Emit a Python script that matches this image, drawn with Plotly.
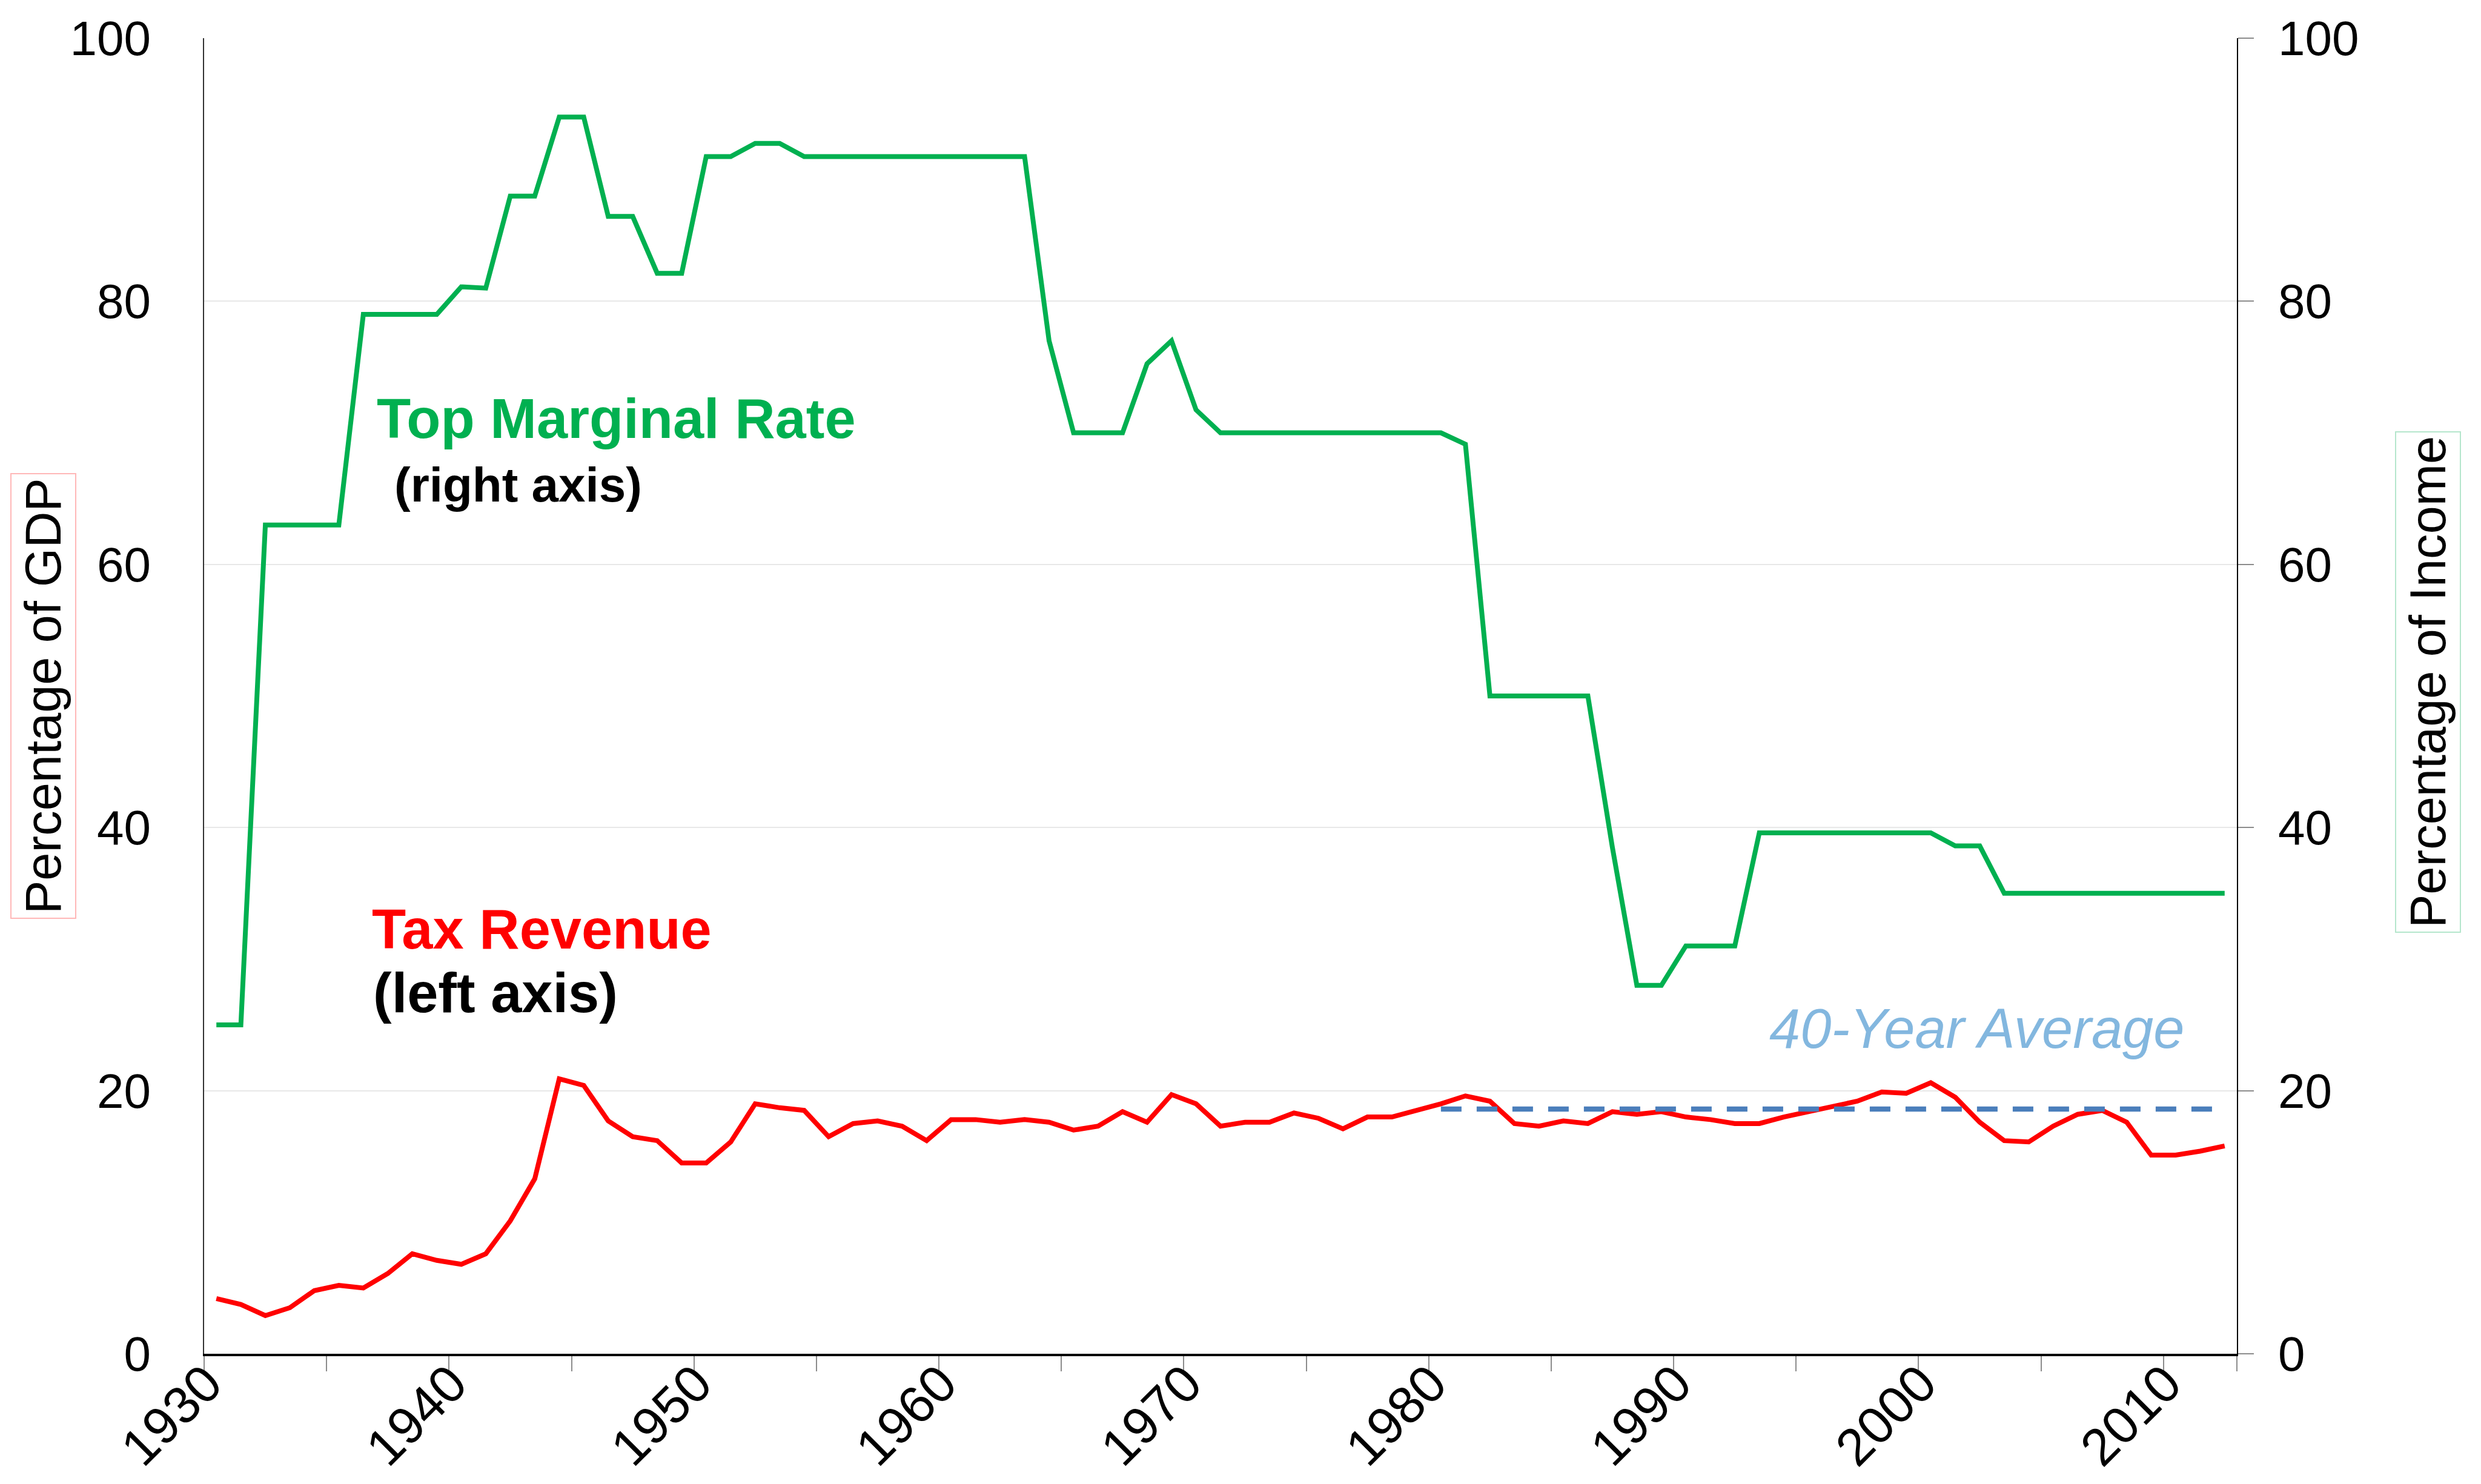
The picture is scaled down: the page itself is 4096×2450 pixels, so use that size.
import plotly.graph_objects as go

years = list(range(1930, 2013))
top_marginal_rate = [25, 25, 63, 63, 63, 63, 79, 79, 79, 79,
                     81.1, 81, 88, 88, 94, 94, 86.45, 86.45, 82.13, 82.13,
                     91, 91, 92, 92, 91, 91, 91, 91, 91, 91,
                     91, 91, 91, 91, 77, 70, 70, 70, 75.25, 77,
                     71.75, 70, 70, 70, 70, 70, 70, 70, 70, 70,
                     70, 69.13, 50, 50, 50, 50, 50, 38.5, 28, 28,
                     31, 31, 31, 39.6, 39.6, 39.6, 39.6, 39.6, 39.6, 39.6,
                     39.6, 38.6, 38.6, 35, 35, 35, 35, 35, 35, 35,
                     35, 35, 35]
tax_revenue = [4.2, 3.75, 2.9, 3.5, 4.8, 5.2, 5.0, 6.1, 7.6, 7.1,
               6.8, 7.6, 10.1, 13.3, 20.9, 20.4, 17.7, 16.5, 16.2, 14.5,
               14.5, 16.1, 19.0, 18.7, 18.5, 16.5, 17.5, 17.7, 17.3, 16.2,
               17.8, 17.8, 17.6, 17.8, 17.6, 17.0, 17.3, 18.4, 17.6, 19.7,
               19.0, 17.3, 17.6, 17.6, 18.3, 17.9, 17.1, 18.0, 18.0, 18.5,
               19.0, 19.6, 19.2, 17.5, 17.3, 17.7, 17.5, 18.4, 18.2, 18.4,
               18.0, 17.8, 17.5, 17.5, 18.0, 18.4, 18.8, 19.2, 19.9, 19.8,
               20.6, 19.5, 17.6, 16.2, 16.1, 17.3, 18.2, 18.5, 17.6, 15.1,
               15.1, 15.4, 15.8]
avg_start_year = 1980
avg_years = [y for y in years if y >= avg_start_year]
avg_value = 18.6
avg_line = [avg_value] * len(avg_years)

year_tick_vals = list(range(1930, 2011, 10))
year_tick_text = [str(y) for y in year_tick_vals]
boundary_ticks = [y - 0.5 for y in range(1930, 2013, 5)] + [2012.5]
y_ticks = [0, 20, 40, 60, 80, 100]

FONT = "Liberation Sans, Arial, sans-serif"
W, H = 4096, 2450
ML, MR, MT, MB = 329, 411, 55, 223

fig = go.Figure()
fig.add_trace(go.Scatter(x=years, y=tax_revenue, mode="lines",
                         line=dict(color="#FF0000", width=8),
                         yaxis="y", showlegend=False))
fig.add_trace(go.Scatter(x=avg_years, y=avg_line, mode="lines",
                         line=dict(color="#4A7EBB", width=8.5, dash="34px,25px"),
                         yaxis="y", showlegend=False))
fig.add_trace(go.Scatter(x=years, y=top_marginal_rate, mode="lines",
                         line=dict(color="#00B050", width=8),
                         yaxis="y2", showlegend=False))

tick_font = dict(family=FONT, size=80, color="black")

fig.update_layout(
    width=W, height=H,
    margin=dict(l=ML, r=MR, t=MT, b=MB, autoexpand=False),
    paper_bgcolor="white", plot_bgcolor="white",
    xaxis=dict(range=[1929.5, 2012.5], tickmode="array",
               tickvals=year_tick_vals, ticktext=year_tick_text,
               tickangle=-45, ticks="", tickfont=dict(family=FONT, size=86, color="black"),
               showgrid=False, zeroline=False,
               showline=True, linecolor="black", linewidth=4,
               ticklabelstandoff=-40, ticklabelshift=-16,
               minor=dict(tickmode="array", tickvals=boundary_ticks, ticks="outside",
                          ticklen=25, tickcolor="#8c8c8c", tickwidth=1.5, showgrid=False)),
    yaxis=dict(range=[0, 100], tickmode="array", tickvals=y_ticks,
               ticks="", tickfont=tick_font, showgrid=True, gridcolor="#E8E8E8",
               gridwidth=1.5, zeroline=False, showline=True, linecolor="#333333",
               linewidth=2, ticklabelstandoff=70),
    yaxis2=dict(range=[0, 100], tickmode="array", tickvals=y_ticks, overlaying="y",
                side="right", ticks="outside", ticklen=26, tickcolor="#8c8c8c",
                tickwidth=1.5, tickfont=tick_font, showgrid=False, zeroline=False,
                showline=True, linecolor="black", linewidth=2, ticklabelstandoff=24),
)

def px(xo):
    return (xo - ML) / (W - ML - MR)

def py(yo):
    return (H - MB - yo) / (H - MT - MB)

annotations = [
    dict(text="<b>Top Marginal Rate</b>", x=px(612), y=py(683), xanchor="left", yanchor="middle",
         font=dict(family=FONT, size=92, color="#00B050")),
    dict(text="<b>(right axis)</b>", x=px(641), y=py(793), xanchor="left", yanchor="middle",
         font=dict(family=FONT, size=80, color="black")),
    dict(text="<b>Tax Revenue</b>", x=px(604), y=py(1526), xanchor="left", yanchor="middle",
         font=dict(family=FONT, size=92, color="#FF0000")),
    dict(text="<b>(left axis)</b>", x=px(606), y=py(1631), xanchor="left", yanchor="middle",
         font=dict(family=FONT, size=92, color="black")),
    dict(text="<i>40-Year Average</i>", x=px(3255), y=py(1690), xanchor="center", yanchor="middle",
         font=dict(family=FONT, size=92, color="#83B7DF")),
    dict(text="Percentage of GDP", x=px(63.5), y=py(1141.5), xanchor="center", yanchor="middle",
         textangle=-90, font=dict(family=FONT, size=83, color="black"),
         bordercolor="#FFB8B8", borderwidth=2, borderpad=6),
    dict(text="Percentage of Income", x=px(4000), y=py(1118), xanchor="center", yanchor="middle",
         textangle=-90, font=dict(family=FONT, size=83, color="black"),
         bordercolor="#B5E6CC", borderwidth=2, borderpad=6),
]
for a in annotations:
    a.update(xref="paper", yref="paper", showarrow=False)
fig.update_layout(annotations=annotations)

fig.write_html("out.html")
